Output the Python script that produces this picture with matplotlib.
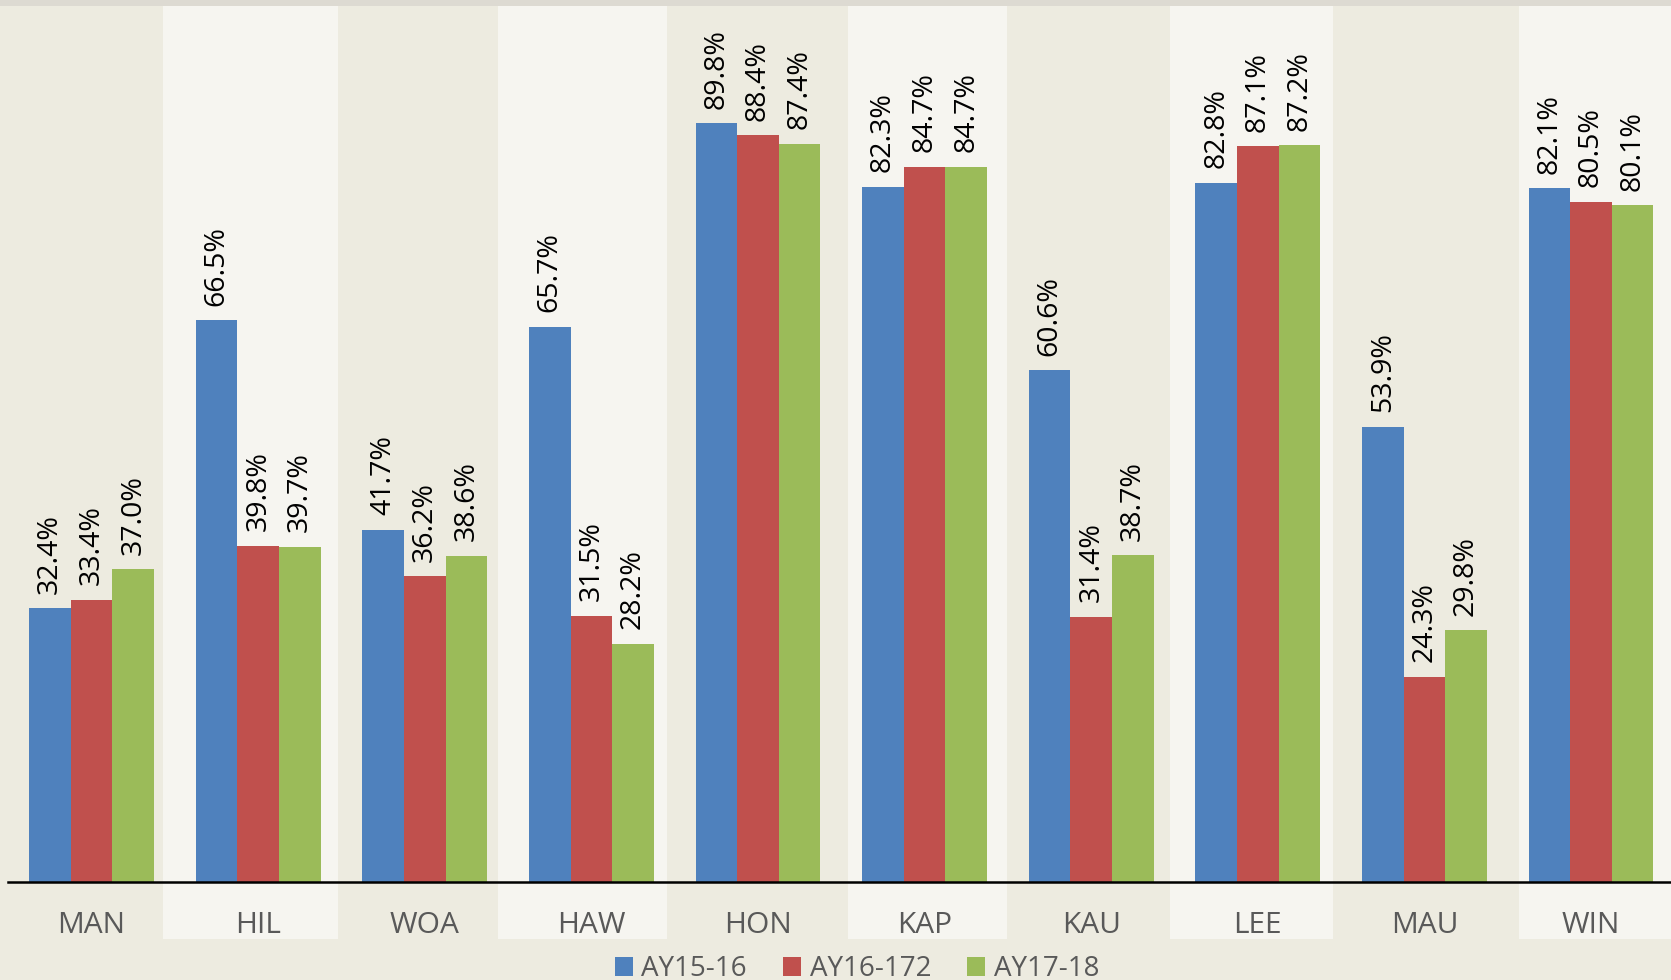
import matplotlib
matplotlib.use("Agg")
import matplotlib.pyplot as plt
from matplotlib.patches import Rectangle
import numpy as np

plt.rcParams['font.family'] = ['Open Sans', 'DejaVu Sans']

# data
categories = ['MAN', 'HIL', 'WOA', 'HAW', 'HON', 'KAP', 'KAU', 'LEE', 'MAU', 'WIN']
series_names = ['AY15-16', 'AY16-172', 'AY17-18']
ay15_16 = [32.4, 66.5, 41.7, 65.7, 89.8, 82.3, 60.6, 82.8, 53.9, 82.1]
ay16_17 = [33.4, 39.8, 36.2, 31.5, 88.4, 84.7, 31.4, 87.1, 24.3, 80.5]
ay17_18 = [37.0, 39.7, 38.6, 28.2, 87.4, 84.7, 38.7, 87.2, 29.8, 80.1]
colors = ['#4F81BD', '#C0504D', '#9BBB59']

bg = '#EDEBE0'
stripe = '#F6F5F0'

# light background stripes (x extents in category units)
stripe_spans = [(0.43, 1.48), (2.44, 3.455), (4.54, 5.495), (6.47, 7.45), (8.565, 9.6)]

fig = plt.figure(figsize=(16.71, 9.80), dpi=100, facecolor=bg)
ax = fig.add_axes([8.3 / 1671, 98 / 980, (1671 - 8.3) / 1671, 876 / 980])
ax.set_facecolor(bg)

# slightly darker strip along the very top
fig.patches.append(Rectangle((0, 974 / 980), 1, 6 / 980, transform=fig.transFigure,
                             color='#DDDAD2', lw=0, zorder=-1))

x = np.arange(len(categories))
w = 0.25

for a, b in stripe_spans:
    ax.axvspan(a, b, ymin=-0.065, ymax=1, color=stripe, zorder=0, clip_on=False, lw=0)

for k, vals in enumerate([ay15_16, ay16_17, ay17_18]):
    pos = x + (k - 1) * w
    bars = ax.bar(pos, vals, w, color=colors[k], label=series_names[k], zorder=2,
                  edgecolor='none')
    for b, v in zip(bars, vals):
        ax.annotate(f'{v:.1f}%', (b.get_x() + b.get_width() / 2, v),
                    xytext=(0, 10.5), textcoords='offset points', rotation=90,
                    ha='center', va='bottom', fontsize=20.5, color='black')

ax.set_xlim(-0.5, -0.5 + (1671 - 8.3) / 166.6)
ax.set_ylim(0, 103.7)
ax.set_yticks([])
ax.set_xticks(x)
ax.set_xticklabels(categories, fontsize=21.5, color='#595959')
ax.tick_params(axis='x', length=0, pad=21)
for s in ['top', 'left', 'right']:
    ax.spines[s].set_visible(False)
ax.spines['bottom'].set_color('black')
ax.spines['bottom'].set_linewidth(1.8)
ax.spines['bottom'].set_zorder(3)

leg = fig.legend(loc='center', bbox_to_anchor=(857 / 1671, 11 / 980), ncol=3,
                 frameon=False, fontsize=20, handlelength=0.65, handleheight=0.65,
                 handletextpad=0.3, columnspacing=1.3, borderpad=0)
for t in leg.get_texts():
    t.set_color('#595959')

fig.savefig('out.png', dpi=100, facecolor=bg)
